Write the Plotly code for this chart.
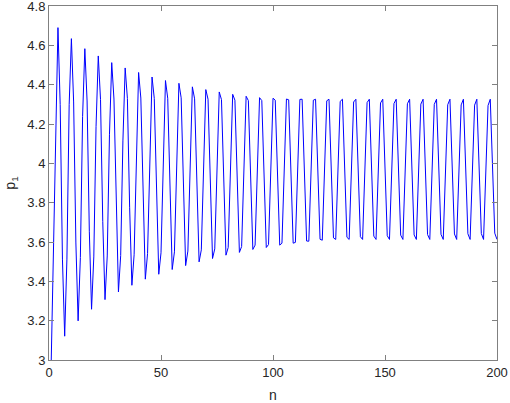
import plotly.graph_objects as go

# p1 series (n = 1..200)
p1 = [
    3.000, 3.520, 4.150,
    4.690, 4.298, 3.513, 3.121, 3.513, 4.298,
    4.634, 4.312, 3.595, 3.199, 3.521, 4.239,
    4.583, 4.317, 3.655, 3.258, 3.524, 4.186,
    4.546, 4.324, 3.705, 3.307, 3.529, 4.148,
    4.512, 4.327, 3.744, 3.346, 3.531, 4.114,
    4.485, 4.330, 3.777, 3.380, 3.535, 4.088,
    4.462, 4.332, 3.807, 3.411, 3.541, 4.066,
    4.439, 4.330, 3.829, 3.436, 3.545, 4.046,
    4.421, 4.331, 3.850, 3.460, 3.550, 4.031,
    4.407, 4.333, 3.869, 3.480, 3.554, 4.018,
    4.389, 4.328, 3.883, 3.499, 3.560, 4.005,
    4.375, 4.326, 3.896, 3.516, 3.565, 3.995,
    4.363, 4.324, 3.909, 3.533, 3.572, 3.987,
    4.351, 4.321, 3.919, 3.547, 3.577, 3.979,
    4.341, 4.319, 3.929, 3.562, 3.584, 3.974,
    4.334, 4.319, 3.938, 3.572, 3.587, 3.968,
    4.331, 4.321, 3.948, 3.584, 3.594, 3.967,
    4.327, 4.323, 3.957, 3.594, 3.598, 3.964,
    4.325, 4.326, 3.966, 3.605, 3.604, 3.964,
    4.321, 4.326, 3.973, 3.614, 3.609, 3.962,
    4.318, 4.326, 3.977, 3.621, 3.613, 3.962,
    4.315, 4.326, 3.981, 3.624, 3.613, 3.958,
    4.312, 4.326, 3.984, 3.627, 3.613, 3.955,
    4.309, 4.326, 3.986, 3.630, 3.613, 3.953,
    4.307, 4.326, 3.988, 3.632, 3.613, 3.951,
    4.304, 4.326, 3.991, 3.635, 3.613, 3.948,
    4.303, 4.326, 3.993, 3.636, 3.613, 3.947,
    4.301, 4.326, 3.994, 3.638, 3.613, 3.945,
    4.300, 4.326, 3.996, 3.639, 3.613, 3.943,
    4.298, 4.326, 3.997, 3.641, 3.613, 3.942,
    4.297, 4.326, 3.998, 3.642, 3.613, 3.941,
    4.296, 4.326, 4.000, 3.643, 3.613, 3.939,
    4.294, 4.326, 4.001, 3.645, 3.613,
]
n = list(range(1, len(p1) + 1))

x_ticks = [0, 50, 100, 150, 200]
y_ticks = [3, 3.2, 3.4, 3.6, 3.8, 4, 4.2, 4.4, 4.6, 4.8]
y_labels = ["3", "3.2", "3.4", "3.6", "3.8", "4", "4.2", "4.4", "4.6", "4.8"]

axis_color = "#262626"
font = "Liberation Sans, Arial, sans-serif"

fig = go.Figure(
    go.Scatter(
        x=n,
        y=p1,
        mode="lines",
        line=dict(color="#0000ff", width=1),
        showlegend=False,
    )
)

axis_style = dict(
    showgrid=False,
    zeroline=False,
    showline=True,
    linecolor="#808080",
    linewidth=1,
    mirror="allticks",
    ticks="inside",
    ticklen=5,
    tickcolor="#808080",
    ticklabeloverflow="allow",
    automargin=False,
    tickfont=dict(family=font, size=13, color=axis_color),
)

fig.update_xaxes(
    range=[0, 200],
    tickvals=x_ticks,
    title=dict(text="n", font=dict(family=font, size=14, color=axis_color), standoff=12),
    **axis_style,
)
fig.update_yaxes(
    range=[3, 4.8],
    tickvals=y_ticks,
    ticktext=y_labels,
    title=dict(text="p<sub>1</sub>", font=dict(family=font, size=14, color=axis_color), standoff=8),
    **axis_style,
)

fig.update_layout(
    width=510,
    height=403,
    margin=dict(l=49, r=13, t=6, b=43),
    plot_bgcolor="white",
    paper_bgcolor="white",
)

# drop the page's default body margin so the figure sits at the window corner
fig.write_html(
    "out.html",
    config={"displayModeBar": False},
    post_script="document.body.style.margin='0';",
)
